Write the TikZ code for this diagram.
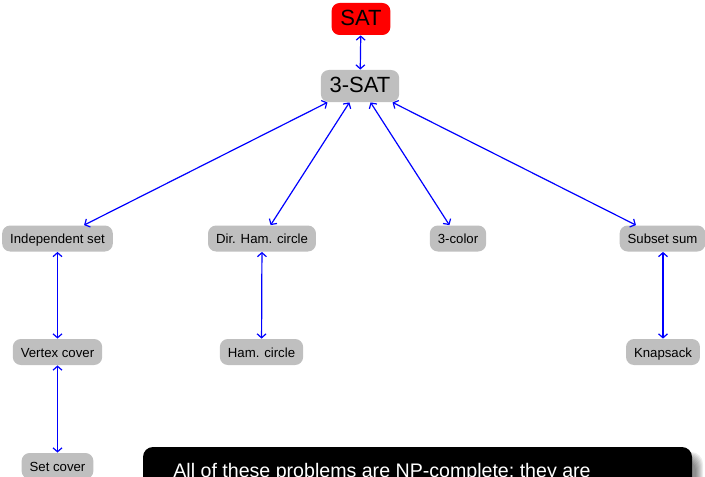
\documentclass[tikz,border=0pt]{standalone}
\usepackage{fontspec}
\setmainfont{Liberation Sans}
\usetikzlibrary{arrows.meta}
\begin{document}
\begin{tikzpicture}[x=0.5pt,y=-0.5pt,
  prob/.style={fill=black!25, rounded corners=4pt, inner xsep=4pt, inner ysep=0pt,
    minimum height=13pt, font=\fontsize{6.6}{7}\selectfont, text height=0.72em, text depth=0.2em},
  big/.style={rounded corners=4pt, inner xsep=4.4pt, inner ysep=0pt,
    minimum height=16pt, font=\fontsize{11}{12}\selectfont, text height=0.72em, text depth=0.05em},
  arr/.style={draw=blue, line width=0.6pt, {Straight Barb[length=2pt,width=4.5pt]}-{Straight Barb[length=2pt,width=4.5pt]}}]
\useasboundingbox (0,0) rectangle (705,476);
\node[big, fill=red] (sat) at (361,19) {SAT};
\node[big, fill=black!25] (sat3) at (360,86) {3-SAT};
\node[prob] (ind) at (57.5,238.5) {Independent set};
\node[prob] (dham) at (262,238.5) {Dir. Ham. circle};
\node[prob] (col) at (458,238.5) {3-color};
\node[prob] (sub) at (662.5,238.5) {Subset sum};
\node[prob] (vc) at (57.5,352) {Vertex cover};
\node[prob] (ham) at (261.5,352) {Ham. circle};
\node[prob] (knap) at (663,352) {Knapsack};
\node[prob] (sc) at (57.5,466) {Set cover};
\draw[arr] (sat) -- (sat3);
\draw[arr] (sat3) -- (ind);
\draw[arr] (sat3) -- (dham);
\draw[arr] (sat3) -- (col);
\draw[arr] (sat3) -- (sub);
\draw[arr] (ind) -- (vc);
\draw[arr] (vc) -- (sc);
\draw[arr] (dham) -- (ham);
\draw[arr] (sub.south -| knap) -- (knap);
% message box with soft shadow
\foreach \i in {0,...,7}{
  \fill[black, opacity=0.07, rounded corners=6pt] (143+8-\i,447+12-\i) rectangle (692+4+\i,540);
}
\fill[black, rounded corners=5pt] (143,447) rectangle (692,540);
\node[anchor=base west, inner sep=0pt, text=white, font=\fontsize{9.8}{11}\selectfont] (msg) at (173,477.5) {All of these problems are NP-complete; they are};
\end{tikzpicture}
\end{document}
